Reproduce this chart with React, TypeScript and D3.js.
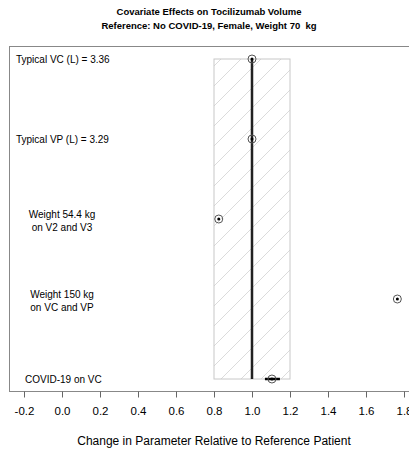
import React, { useRef, useEffect } from 'react'
import { select, scaleLinear, scalePoint, axisBottom, range } from 'd3'

const categories = ['vc', 'vp', 'w54', 'w150', 'covid']
const labels = [
  ['Typical VC (L) = 3.36'],
  ['Typical VP (L) = 3.29'],
  ['Weight 54.4 kg', 'on V2 and V3'],
  ['Weight 150 kg', 'on VC and VP'],
  ['COVID-19 on VC'],
]
const estimates = [1.0, 1.0, 0.825, 1.765, 1.105]
const lower = [1.0, 1.0, 0.825, 1.765, 1.068]
const upper = [1.0, 1.0, 0.825, 1.765, 1.147]
const tickValues = range(-0.2, 1.81, 0.2)
const refBand = [0.8, 1.2]

const W = 409
const H = 452

const App = () => {
  const svgRef = useRef<SVGSVGElement>(null)

  useEffect(() => {
    const svg = select(svgRef.current)
    svg.selectAll('*').remove()

    const x = scaleLinear().domain([0, 1]).range([62, 252])
    const y = scalePoint().domain(categories).range([59, 379])

    const defs = svg.append('defs')
    const pat = defs.append('pattern')
      .attr('id', 'hatch')
      .attr('patternUnits', 'userSpaceOnUse')
      .attr('width', 20).attr('height', 20)
    pat.append('path')
      .attr('d', 'M-5,5 L5,-5 M0,20 L20,0 M15,25 L25,15')
      .attr('stroke', '#d2d2d2').attr('stroke-width', 0.8)

    // frame
    svg.append('rect')
      .attr('x', 9.5).attr('y', 46.5)
      .attr('width', 430).attr('height', 345)
      .attr('fill', 'none').attr('stroke', '#888').attr('stroke-width', 1)

    // reference band
    svg.append('rect')
      .attr('x', x(refBand[0])).attr('y', y('vc')!)
      .attr('width', x(refBand[1]) - x(refBand[0]))
      .attr('height', y('covid')! - y('vc')!)
      .attr('fill', 'url(#hatch)').attr('stroke', '#c8c8c8').attr('stroke-width', 1)

    svg.append('line')
      .attr('x1', x(1)).attr('x2', x(1))
      .attr('y1', y('vc')!).attr('y2', y('covid')!)
      .attr('stroke', '#222').attr('stroke-width', 2.5)

    // CI bars
    svg.selectAll('.ci').data(categories).join('line').attr('class', 'ci')
      .attr('x1', (d, i) => x(lower[i])).attr('x2', (d, i) => x(upper[i]))
      .attr('y1', d => y(d)!).attr('y2', d => y(d)!)
      .attr('stroke', '#000').attr('stroke-width', 2.5)

    svg.selectAll('.pt').data(categories).join('circle').attr('class', 'pt')
      .attr('cx', (d, i) => x(estimates[i])).attr('cy', d => y(d)!)
      .attr('r', 4).attr('fill', 'none').attr('stroke', '#555').attr('stroke-width', 1)
    svg.selectAll('.dot').data(categories).join('circle').attr('class', 'dot')
      .attr('cx', (d, i) => x(estimates[i])).attr('cy', d => y(d)!)
      .attr('r', 1.5).attr('fill', '#000')

    // row labels
    const lab = svg.append('g')
      .attr('font-family', 'Liberation Sans, Arial, sans-serif')
      .attr('font-size', 10).attr('fill', '#000')
    categories.forEach((c, i) => {
      const lines = labels[i]
      if (lines.length === 1) {
        lab.append('text')
          .attr('x', c === 'covid' ? 25 : 16).attr('y', y(c)! + 3.5)
          .text(lines[0])
      } else {
        lines.forEach((l, j) => {
          lab.append('text')
            .attr('x', 62).attr('y', y(c)! - 1.5 + j * 13.5)
            .attr('text-anchor', 'middle')
            .text(l)
        })
      }
    })

    // x axis
    const ax = svg.append('g')
      .attr('transform', 'translate(0,391.5)')
      .call(axisBottom(x).tickValues(tickValues).tickSize(6).tickPadding(9)
        .tickFormat(d => (+d).toFixed(1)))
    ax.select('.domain').remove()
    ax.selectAll('line').attr('stroke', '#666')
    ax.selectAll('text')
      .attr('font-family', 'Liberation Sans, Arial, sans-serif')
      .attr('font-size', 11.5).attr('fill', '#000')

    svg.append('text')
      .attr('x', 214).attr('y', 445)
      .attr('text-anchor', 'middle')
      .attr('font-family', 'Liberation Sans, Arial, sans-serif')
      .attr('font-size', 12)
      .text('Change in Parameter Relative to Reference Patient')

    const title = svg.append('g')
      .attr('font-family', 'Liberation Sans, Arial, sans-serif')
      .attr('font-size', 9.5).attr('font-weight', 'bold')
      .attr('text-anchor', 'middle')
    title.append('text').attr('x', 209).attr('y', 15)
      .text('Covariate Effects on Tocilizumab Volume')
    title.append('text').attr('x', 209).attr('y', 29)
      .attr('xml:space', 'preserve')
      .text('Reference: No COVID-19, Female, Weight 70  kg')
  }, [])

  return (
    <div style={{ position: 'absolute', left: 0, top: 0 }}>
      <svg ref={svgRef} width={W} height={H} style={{ display: 'block', background: '#fff' }} />
    </div>
  )
}

export default App
